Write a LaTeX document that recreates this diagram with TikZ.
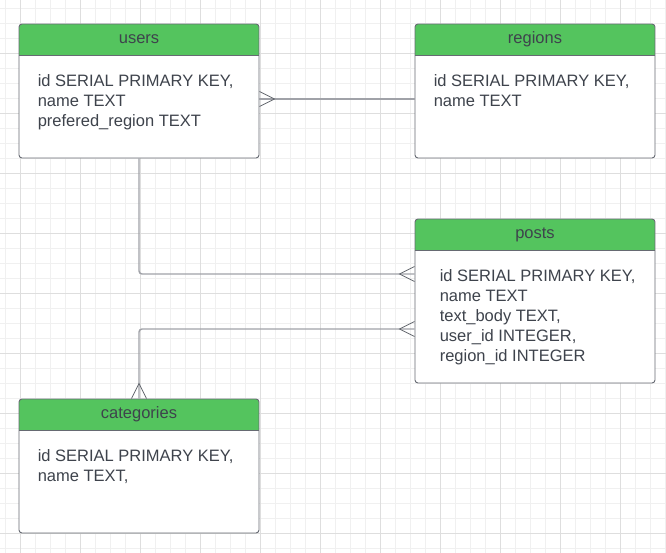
\documentclass[tikz,border=0pt]{standalone}
\usepackage{fontspec}
\setmainfont{Liberation Sans}
\usepackage{tikz}
\usetikzlibrary{arrows,positioning,calc}

\definecolor{vertentete}{RGB}{84,196,94}
\definecolor{bordure}{RGB}{102,106,114}
\definecolor{encre}{RGB}{62,67,76}
\definecolor{gristrait}{RGB}{160,162,168}
\definecolor{grispatte}{RGB}{100,104,111}
\definecolor{grillefine}{RGB}{240,240,240}
\definecolor{grillegrosse}{RGB}{222,222,222}

\begin{document}
\begin{tikzpicture}[x=1pt,y=1pt]
\tikzstyle{boite}=[draw=bordure,fill=white,rounded corners=3pt,line width=0.9pt,minimum width=240pt,inner sep=0pt,
  path picture={\fill[vertentete,sharp corners] (path picture bounding box.north west) rectangle ([yshift=-\HauteurEntete]path picture bounding box.north east);
    \draw[bordure,line width=0.9pt] ([yshift=-\HauteurEntete]path picture bounding box.north west) -- ([yshift=-\HauteurEntete]path picture bounding box.north east);}]
\tikzstyle{titre}=[anchor=base,inner sep=0pt,text=encre,font=\fontsize{16.5}{20}\selectfont]
\tikzstyle{champs}=[anchor=north west,align=left,inner sep=0pt,text=encre,font=\fontsize{16.5}{20}\selectfont]
\tikzstyle{lien}=[draw=gristrait,line width=1.4pt,rounded corners=3pt]
\tikzstyle{patte}=[draw=grispatte,line width=0.8pt]
\def\HauteurEntete{31.5}
\def\BaseTitre{-19.8}
\def\HautChamps{-51}
\def\DemiPatte{7.5}
\def\LongPatte{15}
% fond quadrille
\useasboundingbox (0,0) rectangle (666,553);
\fill[white] (0,0) rectangle (666,553);
\foreach \k in {5,20,...,665} {
  \draw[grillefine,line width=0.8pt] (\k,0) -- (\k,553);
  \draw[grillefine,line width=0.8pt] (0,\k) -- (666,\k);
}
\foreach \k in {20,80,...,620} {
  \draw[grillegrosse,line width=0.8pt] (\k,0) -- (\k,553);
  \draw[grillegrosse,line width=0.8pt] (0,\k) -- (666,\k);
}
% tables
\node[boite,minimum height=134pt] (Users) at (139,462) {};
\node[titre] (UsersTitre) at ($(Users.north)+(0,\BaseTitre)$) {users};
\node[champs] (UsersChamps) at ($(Users.north west)+(19,\HautChamps)$) {id SERIAL PRIMARY KEY,\\name TEXT\\prefered\_region TEXT};
\node[boite,minimum height=134pt] (Regions) at (535,462) {};
\node[titre] (RegionsTitre) at ($(Regions.north)+(0,\BaseTitre)$) {regions};
\node[champs] (RegionsChamps) at ($(Regions.north west)+(19,\HautChamps)$) {id SERIAL PRIMARY KEY,\\name TEXT};
\node[boite,minimum height=164pt] (Posts) at (535,252) {};
\node[titre] (PostsTitre) at ($(Posts.north)+(0,\BaseTitre)$) {posts};
\node[champs] (PostsChamps) at ($(Posts.north west)+(25,\HautChamps)$) {id SERIAL PRIMARY KEY,\\name TEXT\\text\_body TEXT,\\user\_id INTEGER,\\region\_id INTEGER};
\node[boite,minimum height=134pt] (Categories) at (139,87) {};
\node[titre] (CategoriesTitre) at ($(Categories.north)+(0,\BaseTitre)$) {categories};
\node[champs] (CategoriesChamps) at ($(Categories.north west)+(19,\HautChamps)$) {id SERIAL PRIMARY KEY,\\name TEXT,};
% liens
\coordinate (UR) at ([yshift=-8]Users.east);
\coordinate (PU) at ([yshift=27]Posts.west);
\coordinate (PC) at ([yshift=-28]Posts.west);
\draw[lien] (UR) -- (UR -| Regions.west);
\draw[lien] (Users.south) |- (PU);
\draw[lien] (PC) -| (Categories.north);
\draw[patte] ([yshift=\DemiPatte]UR) -- ([xshift=\LongPatte]UR) -- ([yshift=-\DemiPatte]UR);
\draw[patte] ([yshift=\DemiPatte]PU) -- ([xshift=-\LongPatte]PU) -- ([yshift=-\DemiPatte]PU);
\draw[patte] ([yshift=\DemiPatte]PC) -- ([xshift=-\LongPatte]PC) -- ([yshift=-\DemiPatte]PC);
\draw[patte] ([xshift=-\DemiPatte]Categories.north) -- ([yshift=\LongPatte]Categories.north) -- ([xshift=\DemiPatte]Categories.north);
\end{tikzpicture}
\end{document}
